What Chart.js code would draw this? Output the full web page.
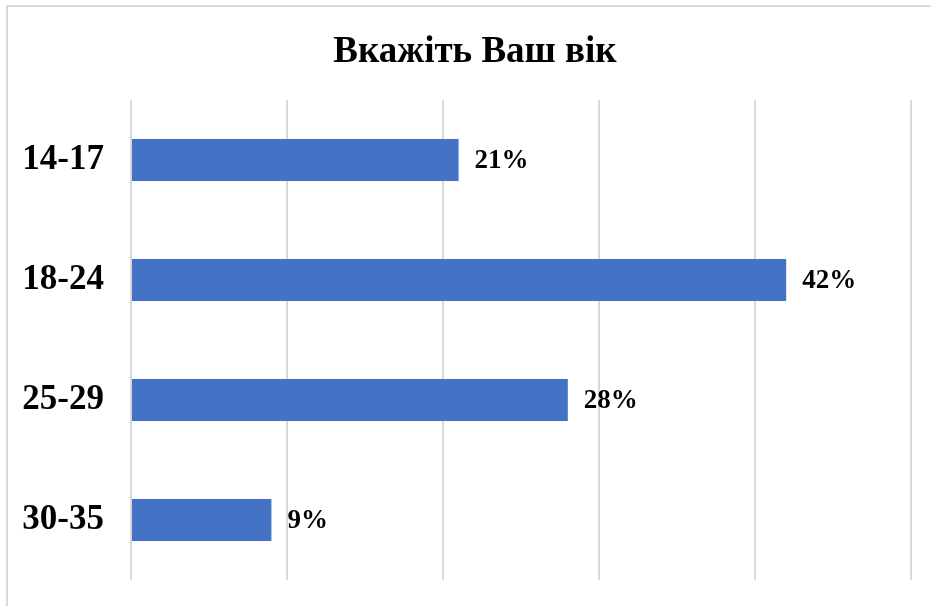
<!DOCTYPE html>
<html>
<head>
<meta charset="utf-8">
<script src="https://cdn.jsdelivr.net/npm/chart.js@4/dist/chart.umd.min.js"></script>
<style>
  html, body { margin: 0; padding: 0; background: #fff; }
  #wrap { position: relative; width: 931px; height: 606px; overflow: hidden; }
  #frame { position: absolute; left: 6px; top: 5px; width: 1000px; height: 700px; border: 2px solid #d9d9d9; box-sizing: border-box; pointer-events: none; }
  canvas { position: absolute; left: 0; top: 0; }
</style>
</head>
<body>
<div id="wrap">
  <canvas id="chart" width="931" height="606"></canvas>
  <div id="frame"></div>
</div>
<script>
const title = "Вкажіть Ваш вік"
const categories = ["14-17", "18-24", "25-29", "30-35"]
const values = [21, 42, 28, 9]
const valueLabels = ["21%", "42%", "28%", "9%"]

const fontFamily = "'Liberation Serif', 'Times New Roman', serif"

// percent next to each bar end
const barLabels = {
  id: "barLabels",
  afterDatasetsDraw(chart) {
    const ctx = chart.ctx
    const meta = chart.getDatasetMeta(0)
    ctx.save()
    ctx.font = "bold 27px " + fontFamily
    ctx.fillStyle = "#000"
    ctx.textAlign = "left"
    ctx.textBaseline = "middle"
    meta.data.forEach((bar, i) => {
      ctx.fillText(valueLabels[i], bar.x + 16, bar.y + 1)
    })
    ctx.restore()
  },
}

// title centred over the whole framed chart (frame runs past the right edge)
const chartTitle = {
  id: "chartTitle",
  afterDraw(chart) {
    const ctx = chart.ctx
    ctx.save()
    ctx.font = "bold 37px " + fontFamily
    ctx.fillStyle = "#000"
    ctx.textAlign = "center"
    ctx.textBaseline = "alphabetic"
    ctx.fillText(title, 475, 62)
    ctx.restore()
  },
}

new Chart(document.getElementById("chart").getContext("2d"), {
  type: "bar",
  data: {
    labels: categories,
    datasets: [
      {
        data: values,
        backgroundColor: "#4472C4",
        borderWidth: 0,
        barPercentage: 0.7,
        categoryPercentage: 0.5,
      },
    ],
  },
  options: {
    indexAxis: "y",
    responsive: false,
    animation: false,
    layout: { padding: { left: 0, right: 20, top: 100, bottom: 26 } },
    plugins: {
      legend: { display: false },
      tooltip: { enabled: false },
      title: { display: false },
    },
    scales: {
      x: {
        min: 0,
        max: 50,
        afterFit: (scale) => { scale.height = 0 },
        ticks: { display: false, stepSize: 10 },
        grid: { color: "#d9d9d9", lineWidth: 2, drawTicks: false },
        border: { display: false },
      },
      y: {
        afterFit: (scale) => {
          scale.width = 131
          scale.paddingTop = 0
          scale.paddingBottom = 0
        },
        ticks: {
          color: "#000",
          padding: 27,
          font: { family: fontFamily, size: 35, weight: "bold" },
        },
        grid: { display: false, drawTicks: false },
        border: { display: false },
      },
    },
  },
  plugins: [barLabels, chartTitle],
})
</script>
</body>
</html>
